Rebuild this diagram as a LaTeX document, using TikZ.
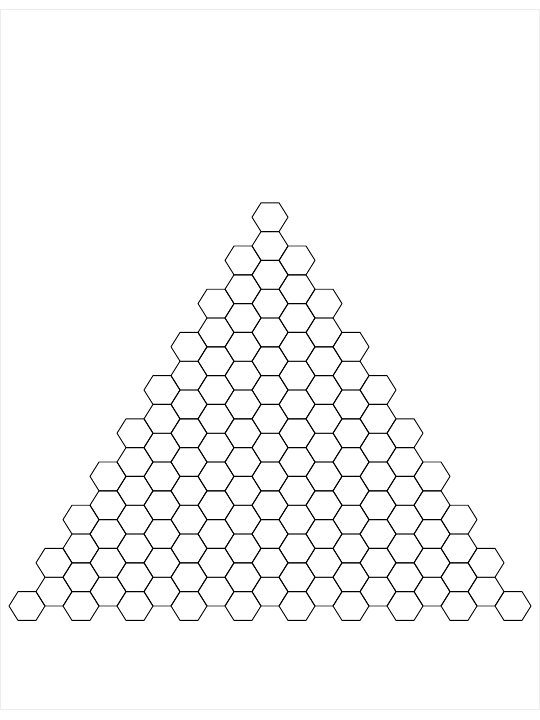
\documentclass[tikz,border=0pt]{standalone}
\begin{document}
\begin{tikzpicture}[x=1pt,y=-1pt,
  hexcell/.style={draw=black,line width=0.9pt,line join=round},
  pageframe/.style={draw={rgb,255:red,236;green,236;blue,236},line width=1pt}]
\useasboundingbox (0,0) rectangle (540,720);
\draw[pageframe] (0.5,9.7) rectangle (539.5,709);
\foreach \c in {-9,...,9}{
  \pgfmathtruncatemacro{\ac}{abs(\c)}
  \pgfmathtruncatemacro{\kt}{3*\ac}
  \pgfmathtruncatemacro{\kb}{26+mod(\ac,2)}
  \pgfmathtruncatemacro{\nn}{(\kb-\kt)/2}
  \foreach \i in {0,...,\nn}{
    \pgfmathsetmacro{\hx}{270+27*\c}
    \pgfmathsetmacro{\hy}{217.2+14.4*(\kt+2*\i)}
    \draw[hexcell] (\hx,\hy) ++(-18,0) -- ++(9,-14.4) -- ++(18,0) -- ++(9,14.4)
      -- ++(-9,14.4) -- ++(-18,0) -- cycle;
  }
}
\end{tikzpicture}
\end{document}
